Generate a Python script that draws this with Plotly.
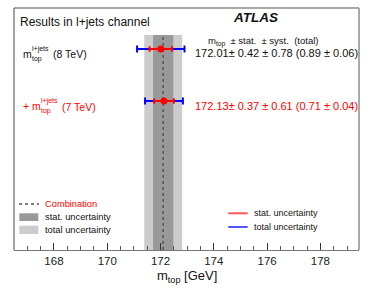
import plotly.graph_objects as go

# ---------------- data ----------------
labels_energy = ["8 TeV", "7 TeV"]
row_pos = [2, 1]
mtop = [172.01, 172.13]
stat = [0.42, 0.37]
syst = [0.78, 0.61]
total = [0.89, 0.71]
total_unc = [0.06, 0.04]

comb_value = 172.10
comb_stat = 0.38
comb_total = 0.71

x_range = [166.5, 179.45]
y_range = [-1.865, 2.788]
band_top = 2.27

FONT = "Liberation Sans, Arial, Helvetica, sans-serif"
RED = "#ff0000"
BLUE = "#0000ff"

# pixel -> paper helpers (plot area 14..359 x 8..250)
L, R, T, B = 14, 359, 8, 250
W, H = R - L, B - T
def px(x):
    return (x - L) / W
def py(y):
    return (B - y) / H

fig = go.Figure()

# total uncertainty bars (blue)
fig.add_trace(go.Scatter(
    x=mtop, y=row_pos, mode="markers",
    marker=dict(size=1, color=BLUE, opacity=0),
    error_x=dict(type="data", array=total, color=BLUE, thickness=2, width=3.5),
    showlegend=False, hoverinfo="skip"))
# stat uncertainty bars (red) + points
fig.add_trace(go.Scatter(
    x=mtop, y=row_pos, mode="markers",
    marker=dict(size=7, color=RED),
    error_x=dict(type="data", array=stat, color=RED, thickness=2, width=2.8),
    showlegend=False, hoverinfo="skip"))

shapes = []
# combination bands
shapes.append(dict(type="rect", xref="x", yref="y", layer="below",
                   x0=comb_value - comb_total, x1=comb_value + comb_total,
                   y0=y_range[0], y1=band_top, fillcolor="#cccccc", line=dict(width=0)))
shapes.append(dict(type="rect", xref="x", yref="y", layer="below",
                   x0=comb_value - comb_stat, x1=comb_value + comb_stat,
                   y0=y_range[0], y1=band_top, fillcolor="#999999", line=dict(width=0)))
shapes.append(dict(type="line", xref="x", yref="y", layer="below",
                   x0=comb_value, x1=comb_value, y0=y_range[0], y1=band_top,
                   line=dict(color="#555555", width=1.5, dash="dot")))

# frame
shapes.append(dict(type="line", xref="paper", yref="paper", x0=0, x1=0, y0=0, y1=1,
                   line=dict(color="#666666", width=1.2)))
shapes.append(dict(type="line", xref="paper", yref="paper", x0=0, x1=1, y0=1, y1=1,
                   line=dict(color="#555555", width=1.2)))
shapes.append(dict(type="line", xref="paper", yref="paper", x0=1, x1=1, y0=0, y1=1,
                   line=dict(color="#aaaaaa", width=2)))

# left legend
shapes.append(dict(type="line", xref="paper", yref="paper", x0=px(19), x1=px(39),
                   y0=py(204), y1=py(204), line=dict(color="#555555", width=1.5, dash="dot")))
shapes.append(dict(type="rect", xref="paper", yref="paper", x0=px(19.3), x1=px(38.3),
                   y0=py(221), y1=py(213.3), fillcolor="#999999", line=dict(width=0)))
shapes.append(dict(type="rect", xref="paper", yref="paper", x0=px(19.3), x1=px(38.3),
                   y0=py(234), y1=py(225.7), fillcolor="#cccccc", line=dict(width=0)))
# right legend
shapes.append(dict(type="line", xref="paper", yref="paper", x0=px(228.3), x1=px(247.7),
                   y0=py(213.3), y1=py(213.3), line=dict(color="#ff5555", width=2)))
shapes.append(dict(type="line", xref="paper", yref="paper", x0=px(228.3), x1=px(247.7),
                   y0=py(227), y1=py(227), line=dict(color="#5555ff", width=2)))

annotations = []
def ann(text, x, y, size, color="#111111", xanchor="left"):
    annotations.append(dict(text=text, x=px(x), y=py(y), xref="paper", yref="paper",
                            xanchor=xanchor, yanchor="middle", showarrow=False,
                            font=dict(family=FONT, size=size, color=color)))

ann("Results in l+jets channel", 18, 22, 12)
ann("<b><i>ATLAS</i></b>", 255, 18, 13.5, xanchor="center")
nb = "\u00a0"
ann("m<sub>top</sub>" + nb * 2 + "±" + nb + "stat." + nb * 2 + "±" + nb + "syst." + nb * 2 + "(total)",
    206, 41, 9.5)

# value lines
colors_row = ["#111111", RED]
ypix_row = [53.5, 106]
for i in range(len(mtop)):
    txt = (f"{mtop[i]:.2f}" + "±" + nb + f"{stat[i]:.2f}" + nb + "±" + nb + f"{syst[i]:.2f}"
           + nb + f"({total[i]:.2f}" + nb + "±" + nb + f"{total_unc[i]:.2f})")
    ann(txt, 193, ypix_row[i], 11, colors_row[i])

# left labels (stacked sup/sub like ROOT)
ann("m", 21.2, 54, 10.5)
ann("l+jets", 29.5, 48.5, 7)
ann("top", 29.5, 58.5, 7)
ann("(" + labels_energy[0] + ")", 50.5, 54.5, 10.5)

ann("+" + nb + "m", 21.2, 106, 10.5, RED)
ann("l+jets", 38.8, 100.5, 7, RED)
ann("top", 38.8, 110.5, 7, RED)
ann("(" + labels_energy[1] + ")", 59.8, 106.5, 10.5, RED)

# legends text
ann("Combination", 42.5, 204, 9.3, RED)
ann("stat. uncertainty", 42.5, 217, 9.3)
ann("total uncertainty", 42.5, 230, 9.3)
ann("stat. uncertainty", 252, 213.3, 9.0)
ann("total uncertainty", 252, 227, 9.0)

# x-axis title
ann("m<sub>top</sub> [GeV]", 187, 276, 13, xanchor="center")

fig.update_layout(
    width=374, height=292,
    margin=dict(l=L, r=374 - R, t=T, b=292 - B, pad=0, autoexpand=False),
    paper_bgcolor="white", plot_bgcolor="white",
    shapes=shapes, annotations=annotations,
    showlegend=False,
    xaxis=dict(range=x_range, showgrid=False, zeroline=False, automargin=False,
               showline=True, linecolor="#777777", linewidth=1.3,
               ticks="inside", ticklen=7, tickwidth=1, tickcolor="#333333",
               tick0=168, dtick=2,
               minor=dict(ticks="inside", ticklen=4, dtick=0.5, tickcolor="#555555", tickwidth=1),
               tickfont=dict(family=FONT, size=11.5, color="#222222")),
    yaxis=dict(range=y_range, showgrid=False, zeroline=False, showline=False, automargin=False,
               showticklabels=False, ticks=""),
)

fig.write_html("out.html", config={"displayModeBar": False, "staticPlot": True},
               post_script="document.body.style.margin='0';document.body.style.overflow='hidden';")
